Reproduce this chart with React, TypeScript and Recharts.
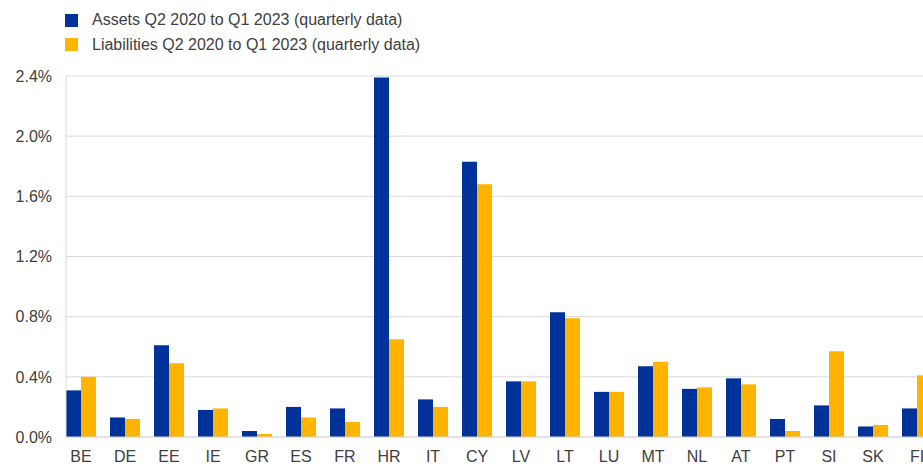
import { BarChart, Bar, XAxis, YAxis, CartesianGrid } from "recharts";

const countries = ["BE", "DE", "EE", "IE", "GR", "ES", "FR", "HR", "IT", "CY", "LV", "LT", "LU", "MT", "NL", "AT", "PT", "SI", "SK", "FI"];
// percent values
const assets = [0.31, 0.13, 0.61, 0.18, 0.04, 0.2, 0.19, 2.39, 0.25, 1.83, 0.37, 0.83, 0.3, 0.47, 0.32, 0.39, 0.12, 0.21, 0.07, 0.19];
const liabilities = [0.4, 0.12, 0.49, 0.19, 0.02, 0.13, 0.1, 0.65, 0.2, 1.68, 0.37, 0.79, 0.3, 0.5, 0.33, 0.35, 0.04, 0.57, 0.08, 0.41];
const yTicks = [0, 0.4, 0.8, 1.2, 1.6, 2.0, 2.4];

const seriesNames = {
  assets: "Assets Q2 2020 to Q1 2023 (quarterly data)",
  liabilities: "Liabilities Q2 2020 to Q1 2023 (quarterly data)",
};

const BLUE = "#003299";
const YELLOW = "#ffb400";
const GRID = "#d9d9d9";
const TEXT = "#404040";

const data = countries.map((c, i) => ({
  name: c,
  assets: assets[i],
  liabilities: liabilities[i],
}));

function LegendBox() {
  const items = [
    { label: seriesNames.assets, color: BLUE },
    { label: seriesNames.liabilities, color: YELLOW },
  ];
  return (
    <div style={{ position: "absolute", left: 65, top: 8, fontSize: 16, color: TEXT, lineHeight: "24.5px" }}>
      {items.map((it) => (
        <div key={it.label} style={{ display: "flex", alignItems: "center" }}>
          <span style={{ width: 13, height: 13, background: it.color, display: "inline-block", marginRight: 14 }} />
          <span>{it.label}</span>
        </div>
      ))}
    </div>
  );
}

export default function App() {
  return (
    <div
      style={{
        position: "absolute",
        left: 0,
        top: 0,
        width: 923,
        height: 466,
        overflow: "hidden",
        background: "#fff",
        fontFamily: "'Liberation Sans', Arial, sans-serif",
      }}
    >
      <BarChart
        width={950}
        height={466}
        data={data}
        margin={{ top: 76, right: 11, bottom: 0, left: 0 }}
        barCategoryGap={7}
        barGap={0}
      >
        <CartesianGrid horizontal vertical={false} stroke={GRID} />
        <XAxis
          dataKey="name"
          height={29}
          padding={{ left: -7, right: 0 }}
          axisLine={{ stroke: GRID }}
          tickLine={false}
          tickSize={0}
          tickMargin={14}
          tick={{ fill: TEXT, fontSize: 16 }}
          interval={0}
        />
        <YAxis
          width={66}
          domain={[0, 2.4]}
          ticks={yTicks}
          axisLine={{ stroke: GRID }}
          tickLine={false}
          tickSize={0}
          tickMargin={14}
          tick={{ fill: TEXT, fontSize: 16 }}
          tickFormatter={(v: number) => v.toFixed(1) + "%"}
        />
        <Bar dataKey="assets" name={seriesNames.assets} fill={BLUE} isAnimationActive={false} />
        <Bar dataKey="liabilities" name={seriesNames.liabilities} fill={YELLOW} isAnimationActive={false} />
      </BarChart>
      <LegendBox />
    </div>
  );
}
